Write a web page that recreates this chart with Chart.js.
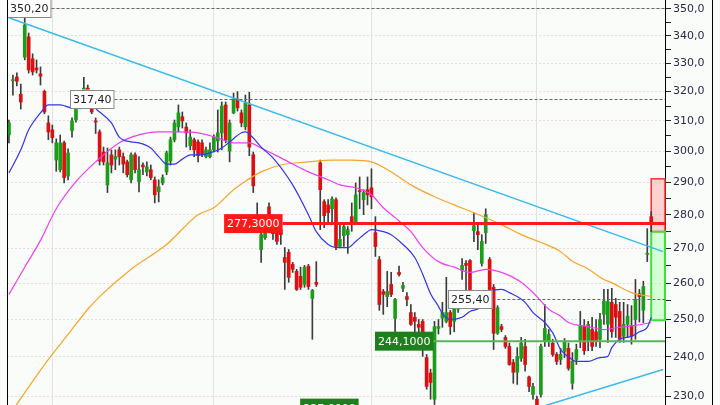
<!DOCTYPE html>
<html lang="en">
<head>
  <meta charset="UTF-8" />
  <title>Candles</title>
  <style>
    html, body { margin: 0; padding: 0; background: #fafcfa; }
    canvas { display: block; }
  </style>
</head>
<body>
  <canvas id="chart" width="720" height="405"></canvas>

  <script src="https://cdn.jsdelivr.net/npm/chart.js"></script>
  <script>
    // OHLC, one entry per candle
    const open = [305.3, 323.8, 325.1, 319.1, 332.2, 339.6, 331.6, 328.3, 326.2, 320.1,
      309.3, 307.0, 297.1, 294.0, 302.7, 292.0, 306.7, 310.3, 314.7, 320.1,
      321.2, 315.0, 310.0, 306.3, 299.7, 289.2, 298.8, 297.4, 300.4, 298.2,
      296.5, 290.8, 298.8, 290.2, 295.5, 293.3, 294.0, 290.8, 287.1, 289.8,
      293.3, 296.8, 303.7, 308.0, 311.4, 307.9, 301.7, 303.7, 303.0, 302.7,
      298.2, 298.2, 300.4, 303.3, 306.0, 315.4, 300.0, 312.7, 317.4, 312.7,
      308.0, 315.4, 298.8, 280.0, 269.6, 273.1, 282.4, 274.9, 274.6, 275.5,
      267.3, 268.8, 265.3, 263.3, 261.9, 259.6, 264.8, 255.7, 260.2, 296.2,
      284.0, 283.0, 281.8, 284.6, 270.5, 273.7, 274.0, 279.4, 277.6, 287.4,
      284.6, 287.7, 288.3, 274.6, 266.7, 257.6, 256.2, 259.6, 250.2, 263.0,
      258.5, 256.2, 251.8, 250.5, 248.6, 249.4, 239.8, 235.8, 229.2, 247.5,
      250.3, 249.4, 251.8, 249.4, 252.7, 263.6, 265.6, 266.4, 275.2, 274.9,
      265.6, 274.6, 266.7, 258.8, 246.2, 248.0, 245.1, 242.7, 238.5, 236.0,
      239.6, 242.7, 234.8, 230.4, 229.2, 230.4, 244.0, 244.0, 243.6, 240.6,
      239.3, 241.4, 242.2, 233.2, 239.3, 244.3, 248.0, 244.3, 247.2, 246.6,
      244.6, 251.3, 248.6, 254.6, 254.0, 252.1, 245.4, 248.6, 248.3, 249.9,
      257.0, 252.4, 268.2, 279.4];
    const high = [310.3, 325.8, 326.6, 322.6, 350.2, 341.0, 333.4, 331.2, 328.7, 320.5,
      311.7, 308.6, 304.0, 305.3, 303.3, 300.7, 311.0, 315.4, 318.0, 325.0,
      322.3, 315.4, 311.0, 307.0, 301.3, 301.0, 300.4, 300.4, 301.3, 299.4,
      297.1, 299.4, 299.4, 298.2, 296.2, 296.5, 295.5, 291.7, 290.8, 292.4,
      300.0, 304.6, 310.3, 315.4, 313.0, 309.3, 307.0, 304.3, 303.7, 303.7,
      301.3, 302.7, 305.3, 313.7, 316.4, 316.4, 310.3, 319.5, 320.0, 313.7,
      318.8, 319.8, 299.7, 283.6, 275.5, 275.5, 283.6, 277.0, 276.7, 277.0,
      270.2, 269.6, 265.9, 263.9, 264.5, 265.0, 265.3, 258.2, 266.1, 297.1,
      284.6, 284.6, 285.5, 285.2, 277.0, 277.0, 276.4, 283.6, 289.8, 291.7,
      287.7, 291.7, 294.3, 279.4, 267.6, 258.2, 263.3, 263.0, 255.7, 264.8,
      260.2, 257.3, 254.0, 251.8, 249.9, 249.9, 240.6, 236.8, 249.4, 249.9,
      254.6, 261.6, 252.4, 254.6, 256.2, 267.0, 266.4, 266.7, 280.6, 277.6,
      274.0, 281.8, 267.3, 259.6, 253.7, 248.6, 245.6, 243.6, 239.3, 242.4,
      245.1, 244.6, 235.0, 233.2, 230.0, 243.3, 254.0, 247.2, 244.6, 241.1,
      242.2, 244.8, 243.6, 241.1, 243.3, 252.1, 249.9, 249.4, 250.5, 249.9,
      251.6, 258.2, 258.2, 258.5, 255.7, 254.6, 254.6, 254.0, 253.7, 261.0,
      258.2, 260.5, 275.8, 280.9];
    const low = [302.7, 318.8, 322.0, 314.0, 331.2, 326.5, 325.8, 326.5, 322.3, 312.4,
      303.7, 302.7, 293.5, 293.3, 289.8, 290.8, 304.6, 309.6, 314.0, 317.1,
      317.1, 312.4, 305.8, 295.5, 295.5, 286.8, 293.0, 294.0, 295.5, 293.0,
      291.7, 289.8, 293.0, 287.0, 292.4, 292.0, 290.8, 283.6, 283.9, 289.2,
      292.4, 295.5, 303.0, 306.3, 307.6, 301.3, 300.4, 298.2, 296.5, 298.2,
      297.8, 297.8, 299.7, 299.7, 300.4, 302.7, 296.5, 312.4, 313.3, 308.0,
      307.0, 298.5, 286.8, 278.0, 265.9, 272.6, 276.1, 272.6, 271.1, 271.1,
      258.2, 260.2, 263.0, 257.9, 258.2, 258.8, 258.2, 244.6, 259.0, 275.5,
      276.1, 277.6, 277.0, 269.6, 270.2, 270.5, 268.5, 275.0, 277.0, 281.8,
      280.0, 283.0, 281.8, 267.6, 252.4, 251.3, 253.4, 256.2, 245.9, 261.9,
      257.6, 253.7, 248.3, 246.6, 245.9, 240.1, 231.7, 229.2, 227.9, 246.0,
      247.8, 249.0, 245.9, 246.6, 251.8, 261.0, 257.6, 257.0, 271.9, 269.6,
      264.8, 271.4, 257.3, 241.9, 245.9, 246.6, 242.2, 237.8, 233.2, 232.9,
      238.8, 236.3, 231.1, 229.2, 227.0, 229.7, 242.7, 242.7, 240.1, 238.0,
      238.0, 239.8, 236.5, 231.7, 238.0, 242.4, 240.6, 241.6, 241.6, 242.7,
      242.4, 248.6, 243.8, 245.1, 245.1, 243.8, 243.8, 245.1, 243.3, 244.6,
      249.2, 249.0, 266.1, 274.9];
    const close = [309.3, 324.2, 323.6, 316.4, 344.0, 327.6, 326.9, 327.6, 325.4, 313.0,
      306.3, 304.4, 302.7, 302.7, 291.5, 299.4, 310.0, 315.0, 317.1, 321.2,
      319.8, 313.0, 309.6, 296.8, 296.5, 296.2, 295.5, 298.2, 298.2, 295.8,
      292.4, 298.8, 294.0, 294.0, 294.9, 294.9, 291.5, 286.1, 288.6, 291.5,
      299.4, 303.7, 309.3, 312.7, 310.0, 306.0, 304.6, 300.4, 298.5, 298.8,
      300.4, 300.4, 304.6, 306.0, 315.0, 303.7, 309.3, 317.4, 314.4, 309.3,
      316.1, 301.3, 288.9, 279.4, 274.0, 274.6, 280.0, 274.3, 272.0, 274.0,
      265.9, 261.6, 263.9, 258.2, 258.8, 264.5, 259.0, 257.9, 259.6, 287.7,
      279.7, 280.6, 284.8, 270.5, 272.6, 276.4, 275.5, 277.6, 286.1, 287.1,
      286.8, 286.1, 285.5, 270.5, 254.0, 256.8, 257.6, 256.8, 255.4, 262.4,
      259.3, 255.4, 248.6, 249.4, 247.8, 243.1, 232.4, 233.4, 248.0, 248.0,
      251.8, 251.8, 248.0, 253.4, 254.0, 265.0, 265.0, 257.9, 276.7, 274.0,
      272.0, 280.0, 257.6, 246.2, 253.1, 247.2, 242.7, 238.0, 236.0, 240.1,
      243.6, 238.0, 232.4, 232.4, 227.5, 242.7, 247.5, 245.9, 240.6, 238.8,
      240.6, 244.0, 237.0, 238.8, 241.9, 248.3, 241.6, 248.6, 242.7, 244.3,
      249.9, 255.0, 254.8, 246.6, 250.5, 244.6, 248.6, 250.8, 245.4, 255.4,
      256.2, 259.0, 268.5, 277.3];

    // moving averages, read at [candle index, price]
    const blueKeys = [[0, 293.0], [3, 300.4], [5, 307.0], [8, 312.7], [10, 315.4], [13, 315.4],
      [16, 314.4], [18, 314.4], [21, 314.7], [23, 313.0], [26, 309.3], [28, 304.6], [31, 303.0],
      [33, 302.7], [36, 301.0], [38, 298.2], [40, 295.8], [42, 295.8], [44, 297.4], [46, 298.8],
      [49, 298.8], [51, 299.4], [54, 301.0], [56, 303.0], [59, 306.0], [60, 306.3], [62, 304.3],
      [64, 301.3], [67, 297.8], [72, 289.2], [76, 280.0], [78, 274.9], [81, 271.1], [83, 270.2],
      [86, 270.2], [88, 272.0], [91, 274.9], [92, 275.5], [95, 274.9], [97, 274.0], [100, 271.1],
      [103, 267.3], [105, 262.5], [107, 257.0], [109, 253.5], [110, 251.5], [112, 249.9],
      [115, 250.5], [117, 252.1], [120, 253.4], [122, 257.6], [125, 258.2], [127, 257.3],
      [131, 254.6], [133, 251.8], [136, 249.1], [138, 246.3], [140, 241.9], [142, 240.0],
      [144, 238.8], [147, 238.8], [150, 239.8], [152, 240.1], [153, 242.4], [155, 244.6],
      [158, 245.4], [160, 246.6], [162, 247.8], [163, 250.5]];
    const pinkKeys = [[0, 256.8], [4, 264.5], [8, 272.3], [12, 281.8], [17, 290.2], [22, 296.5],
      [28, 302.7], [33, 305.3], [38, 306.3], [43, 306.3], [48, 306.0], [53, 304.3], [57, 302.7],
      [61, 302.7], [64, 301.0], [69, 297.8], [76, 293.3], [81, 290.8], [84, 289.2], [88, 288.3],
      [92, 286.1], [95, 282.1], [98, 279.1], [102, 274.9], [105, 270.2], [109, 266.1],
      [113, 264.5], [117, 263.0], [121, 263.9], [125, 263.0], [130, 260.2], [134, 256.2],
      [137, 252.7], [140, 250.8], [142, 249.1], [147, 248.0], [151, 247.2], [155, 247.8],
      [159, 248.3], [163, 249.1]];
    const orangeKeys = [[0, 225.1], [3, 229.4], [10, 239.3], [15, 245.9], [20, 252.7],
      [23, 256.2], [31, 263.9], [40, 271.1], [48, 280.0], [52, 282.1], [57, 287.7], [59, 289.5],
      [64, 293.3], [69, 295.5], [76, 296.5], [82, 297.1], [87, 297.1], [92, 296.5], [97, 293.3],
      [102, 289.2], [108, 285.5], [113, 283.0], [118, 280.6], [125, 277.0], [130, 274.0],
      [135, 271.7], [140, 269.0], [143, 266.2], [147, 264.0], [151, 261.0], [153, 260.1],
      [158, 257.3], [163, 256.2]];

    // trend lines [candle index, price]
    const trendHigh = [[0, 346.7], [166, 269.0]];
    const trendLow = [[134, 227.0], [166, 236.7]];

    // horizontal levels
    const dashLevels = [350.2, 317.4, 255.4];
    const lastPrice = 277.3;
    const supportLevel = 244.1;
    const lowLevel = 227.0;
    const targetUp = [274.9, 291.1];
    const targetDown = [249.7, 274.9];

    const yTicks = [230, 235, 240, 245, 250, 255, 260, 265, 270, 275, 280, 285, 290,
      295, 300, 305, 310, 315, 320, 325, 330, 335, 340, 345, 350];
    const monthLines = [11, 52, 92, 134];

    // label anchors (category index of the tag's left edge)
    const dashTagAt = [-0.5, 15.5, 111.4];
    const lastTagAt = 54.6;
    const supportTagAt = 92.9;
    const lowTagAt = 73.9;

    const slots = open.length + 3;
    const labels = Array.from({ length: slots }, (_, i) => 'd' + i);

    function pad(arr) {
      const out = arr.slice();
      while (out.length < slots) out.push(null);
      return out;
    }
    function fromKeys(keys) {
      const out = new Array(slots).fill(null);
      keys.forEach(([i, v]) => { out[i] = v; });
      return out;
    }
    const fmt = (v, d) => v.toFixed(d).replace('.', ',');

    const bodies = pad(open.map((o, i) => [o, close[i]]));
    const wicks = pad(low.map((l, i) => [l, high[i]]));
    const bodyColors = open.map((o, i) => close[i] >= o ? '#1a9e1a' : '#dc1010');

    function tag(ctx, x, y, text, bg, fg, border) {
      ctx.font = '11px "DejaVu Sans"';
      const w = ctx.measureText(text).width + 6, h = 19;
      ctx.fillStyle = bg;
      ctx.fillRect(x, y - h / 2, w, h);
      if (border) {
        ctx.strokeStyle = border;
        ctx.lineWidth = 1;
        ctx.strokeRect(Math.round(x) + 0.5, Math.round(y - h / 2) + 0.5, w - 1, h - 1);
      }
      ctx.fillStyle = fg;
      ctx.textBaseline = 'middle';
      ctx.textAlign = 'left';
      ctx.fillText(text, x + 3, y + 1);
      return x + w;
    }

    function hline(ctx, x1, x2, y, color, width, dash) {
      ctx.save();
      ctx.strokeStyle = color;
      ctx.lineWidth = width;
      ctx.setLineDash(dash || []);
      ctx.beginPath();
      ctx.moveTo(x1, y);
      ctx.lineTo(x2, y);
      ctx.stroke();
      ctx.restore();
    }

    const overlay = {
      id: 'overlay',
      beforeDraw(chart) {
        const { ctx, width, height } = chart;
        ctx.save();
        ctx.fillStyle = '#fafcfa';
        ctx.fillRect(0, 0, width, height);
        ctx.restore();
      },
      beforeDatasetsDraw(chart) {
        const { ctx, chartArea, scales: { x, y } } = chart;
        const left = x.getPixelForValue(open.length - 1);
        const w = chartArea.right - left;
        ctx.save();
        let top = y.getPixelForValue(targetUp[1]), bot = y.getPixelForValue(targetUp[0]);
        ctx.fillStyle = 'rgba(255, 120, 120, 0.32)';
        ctx.fillRect(left, top, w, bot - top);
        ctx.strokeStyle = '#ff2a2a';
        ctx.lineWidth = 1.5;
        ctx.strokeRect(left, top, w, bot - top);
        top = y.getPixelForValue(targetDown[1]);
        bot = y.getPixelForValue(targetDown[0]);
        ctx.fillStyle = 'rgba(150, 255, 150, 0.35)';
        ctx.fillRect(left, top, w, bot - top);
        ctx.strokeStyle = '#3ee03e';
        ctx.lineWidth = 2;
        ctx.strokeRect(left, top, w, bot - top);
        ctx.restore();
      },
      afterDatasetsDraw(chart) {
        const { ctx, chartArea, scales: { x, y } } = chart;
        ctx.save();
        dashLevels.forEach((v, i) => {
          const py = y.getPixelForValue(v);
          const end = tag(ctx, x.getPixelForValue(dashTagAt[i]), py, fmt(v, 2), '#ffffff', '#222222', '#8a8a8a');
          hline(ctx, end, chartArea.right, Math.round(py) + 0.5, '#666666', 1, [3, 2]);
        });
        let py = y.getPixelForValue(lastPrice);
        let end = tag(ctx, x.getPixelForValue(lastTagAt), py, fmt(lastPrice, 4), '#ff1a1a', '#ffffff');
        hline(ctx, end, chartArea.right, py, '#ff1a1a', 3);
        py = y.getPixelForValue(supportLevel);
        end = tag(ctx, x.getPixelForValue(supportTagAt), py, fmt(supportLevel, 4), '#1f7f1f', '#ffffff');
        hline(ctx, end, chartArea.right, py, '#58b458', 2);
        py = y.getPixelForValue(lowLevel);
        tag(ctx, x.getPixelForValue(lowTagAt), py, fmt(lowLevel, 4), '#1f7f1f', '#ffffff');
        ctx.restore();
      },
      afterDraw(chart) {
        const { ctx, chartArea, height } = chart;
        ctx.save();
        ctx.strokeStyle = '#000000';
        ctx.lineWidth = 1;
        ctx.beginPath();
        ctx.moveTo(Math.round(chartArea.left) + 0.5, 0);
        ctx.lineTo(Math.round(chartArea.left) + 0.5, height);
        ctx.moveTo(712.5, 0);
        ctx.lineTo(712.5, height);
        ctx.stroke();
        ctx.restore();
      }
    };

    const lineBase = { type: 'line', pointRadius: 0, spanGaps: true, borderWidth: 1.2, fill: false };

    new Chart(document.getElementById('chart'), {
      type: 'bar',
      data: {
        labels: labels,
        datasets: [
          { ...lineBase, data: fromKeys(blueKeys), borderColor: '#3434f2', cubicInterpolationMode: 'monotone' },
          { ...lineBase, data: fromKeys(pinkKeys), borderColor: '#f23cf2', cubicInterpolationMode: 'monotone' },
          { ...lineBase, data: fromKeys(orangeKeys), borderColor: '#f7a628', cubicInterpolationMode: 'monotone' },
          { ...lineBase, data: fromKeys(trendHigh), borderColor: '#3cb9ee', borderWidth: 1.5, tension: 0 },
          { ...lineBase, data: fromKeys(trendLow), borderColor: '#3cb9ee', borderWidth: 1.5, tension: 0 },
          { data: bodies, backgroundColor: bodyColors, barThickness: 3, minBarLength: 1, grouped: false },
          { data: wicks, backgroundColor: '#3c3c3c', barThickness: 1, grouped: false }
        ]
      },
      options: {
        responsive: false,
        animation: false,
        events: [],
        layout: { padding: { left: 7, right: 0, top: 0, bottom: 0 } },
        plugins: { legend: { display: false }, tooltip: { enabled: false } },
        scales: {
          x: {
            offset: true,
            grid: {
              offset: false,
              drawTicks: false,
              color: ctx => monthLines.includes(ctx.index) ? '#e6e1e1' : 'rgba(0,0,0,0)'
            },
            border: { display: false },
            ticks: { display: false }
          },
          y: {
            type: 'logarithmic',
            position: 'right',
            min: 227.77,
            max: 353.43,
            afterBuildTicks: s => { s.ticks = yTicks.map(v => ({ value: v })); },
            afterFit: s => { s.width = 55; s.paddingTop = 0; s.paddingBottom = 0; },
            ticks: {
              autoSkip: false,
              padding: 2,
              color: '#2a2a48',
              font: { family: 'DejaVu Sans', size: 11 },
              callback: v => v % 10 === 0 ? fmt(v, 1) : ''
            },
            grid: {
              tickLength: 6,
              tickColor: '#222222',
              color: ctx => ctx.tick && ctx.tick.value % 10 === 0 ? '#ead9d9' : 'rgba(0,0,0,0)'
            },
            border: { display: true, color: '#000000', width: 1, dash: [2, 2] }
          }
        }
      },
      plugins: [overlay]
    });
  </script>
</body>
</html>
